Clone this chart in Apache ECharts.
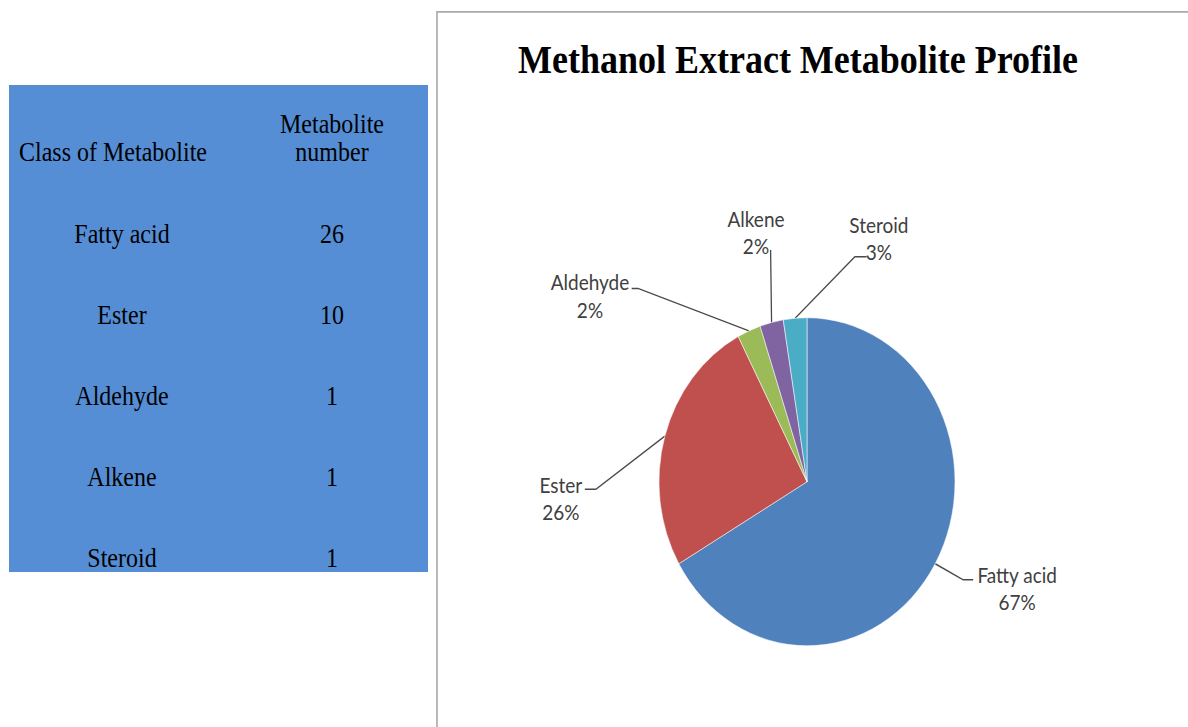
<!DOCTYPE html>
<html><head><meta charset="utf-8">
<script src="https://cdn.jsdelivr.net/npm/echarts@6/dist/echarts.min.js"></script>
<style>
html,body{margin:0;padding:0;background:#fff;overflow:hidden}
#wrap{width:1188px;height:727px;overflow:hidden;position:relative;background:#fff}
#chart{width:1188px;height:656px;transform:scaleY(1.10823);transform-origin:0 0}
</style></head><body><div id="wrap"><div id="chart"></div></div>
<script>
// ---- data ----
const chartTitle = 'Methanol Extract Metabolite Profile';
const categories = ['Fatty acid', 'Ester', 'Aldehyde', 'Alkene', 'Steroid'];
const counts = [26, 10, 1, 1, 1];
const percentLabels = [67, 26, 2, 2, 3];
const tableHeaders = ['Class of Metabolite', 'Metabolite\nnumber'];

// ---- styles / layout ----
const colors = ['#4F81BD', '#C0504D', '#9BBB59', '#8064A2', '#4BACC6'];
const cx = 807, cy = 434.7, R = 148;
const leader = [
  {elbow: [28, 14.5], end: [38, 14.5], label: [82, 22]},
  {elbow: [-69, 48], end: [-80, 48], label: [-104, 56]},
  {elbow: [-111, -38.3], end: [-117.3, -38.3], label: [-159, -31.8]},
  {elbow: [-1, -65.4], end: [-1, -65.4], label: [-15.6, -81.9]},
  {elbow: [59.8, -55.5], end: [71.5, -55.5], label: [83.8, -72.1]}
];
const total = counts.reduce((a, b) => a + b, 0);
let acc = 0;
const edge = counts.map(v => {
  const mid = (acc + v / 2) / total * 2 * Math.PI;
  acc += v;
  return [cx + R * Math.sin(mid), cy - R * Math.cos(mid)];
});

const serif = '"Liberation Serif","Times New Roman",serif';
const tbl = {x: 9, y: 76.7, w: 419, h: 439.5, c1: 122, c2: 332, row0: 210.3, step: 73.1};

const graphics = [
  {type: 'rect', shape: {x: 437, y: 10.8, width: 1000, height: 1000},
   style: {fill: 'none', stroke: '#a9a9a9', lineWidth: 1.6}, z: 0},
  {type: 'rect', shape: {x: tbl.x, y: tbl.y, width: tbl.w, height: tbl.h},
   style: {fill: '#558ED5'}, z: 0},
  {type: 'text', x: 798, y: 54, z: 2,
   style: {text: chartTitle, font: 'bold 36px ' + serif, fill: '#000',
           textAlign: 'center', textVerticalAlign: 'middle'}},
  {type: 'text', x: 113, y: 137.2, z: 2,
   style: {text: tableHeaders[0], font: '24px ' + serif, fill: '#000',
           textAlign: 'center', textVerticalAlign: 'middle'}},
  {type: 'text', x: tbl.c2, y: 124.1, z: 2,
   style: {text: tableHeaders[1], font: '24px ' + serif, fill: '#000', lineHeight: 26,
           textAlign: 'center', textVerticalAlign: 'middle'}}
];
categories.forEach((c, i) => {
  const y = tbl.row0 + i * tbl.step;
  graphics.push({type: 'text', x: tbl.c1, y: y, z: 2,
    style: {text: c, font: '24px ' + serif, fill: '#000', textAlign: 'center', textVerticalAlign: 'middle'}});
  graphics.push({type: 'text', x: tbl.c2, y: y, z: 2,
    style: {text: String(counts[i]), font: '24px ' + serif, fill: '#000', textAlign: 'center', textVerticalAlign: 'middle'}});
});

const chart = echarts.init(document.getElementById('chart'), null, {renderer: 'svg'});
chart.setOption({
  animation: false,
  color: colors,
  graphic: graphics,
  series: [{
    type: 'pie',
    center: [cx, cy],
    radius: R,
    startAngle: 90,
    clockwise: true,
    avoidLabelOverlap: false,
    itemStyle: {borderColor: '#ffffff', borderWidth: 0.5},
    label: {
      show: true, position: 'outside', color: '#404040',
      fontFamily: 'Lato, "Open Sans", sans-serif', fontSize: 19, lineHeight: 24.4,
      align: 'center',
      formatter: p => p.name + '\n' + percentLabels[p.dataIndex] + '%'
    },
    labelLine: {show: true, length: 10, length2: 10, lineStyle: {color: '#4a4a4a', width: 1.3}},
    labelLayout: function (p) {
      const i = p.dataIndex, e = edge[i], L = leader[i];
      return {
        x: e[0] + L.label[0], y: e[1] + L.label[1], align: 'center', verticalAlign: 'middle',
        labelLinePoints: [e, [e[0] + L.elbow[0], e[1] + L.elbow[1]], [e[0] + L.end[0], e[1] + L.end[1]]]
      };
    },
    emphasis: {disabled: true},
    data: categories.map((c, i) => ({name: c, value: counts[i]}))
  }]
});
</script></body></html>
